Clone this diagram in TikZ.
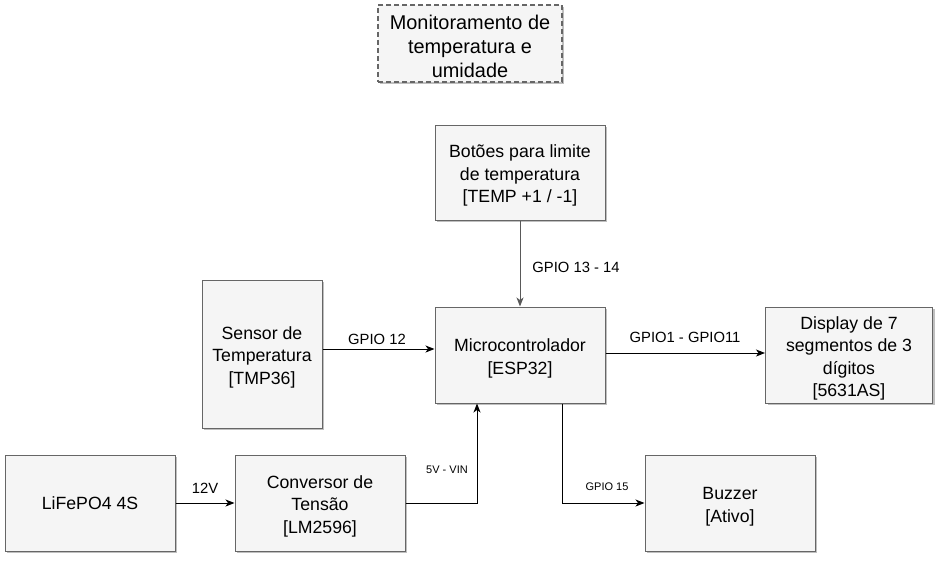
\documentclass[tikz,border=0pt]{standalone}
\usepackage{fontspec}
\setmainfont{Liberation Sans}
\usetikzlibrary{arrows.meta,shadows}
\definecolor{boxfill}{HTML}{F5F5F5}
\definecolor{boxline}{HTML}{666666}
\newcommand\tdn{\rule{0pt}{19.5pt}}
\tikzset{
  blk/.style={draw=boxline, fill=boxfill, line width=1pt, align=center,
    inner sep=0pt, font=\fontsize{17.7}{22.5}\selectfont,
    drop shadow={shadow xshift=2pt, shadow yshift=-2pt, opacity=0.25, fill=black}},
  ttl/.style={blk, dashed, dash pattern=on 5pt off 3pt, line width=1.5pt,
    font=\fontsize{19.9}{24}\selectfont},
  arr/.style={draw=black, line width=1pt, -{Stealth[length=9pt,width=7pt,inset=2.5pt]}},
  lbl/.style={inner sep=0pt, font=\fontsize{14.8}{17}\selectfont},
  slbl/.style={inner sep=0pt, font=\fontsize{11}{13}\selectfont}
}
\begin{document}
\begin{tikzpicture}[x=1pt,y=-1pt]
\useasboundingbox (0,0) rectangle (942,560);
\node[ttl, minimum width=184pt, minimum height=77pt] (title) at (470,43.5) {\tdn Monitoramento de\\temperatura e\\umidade};
\node[blk, minimum width=170pt, minimum height=95pt] (bot) at (520,172.5) {\tdn Botões para limite\\de temperatura\\{[TEMP +1 / -1]}};
\node[blk, minimum width=120pt, minimum height=148pt] (sens) at (262,354) {\tdn Sensor de\\Temperatura\\{[TMP36]}};
\node[blk, minimum width=170pt, minimum height=96pt] (mcu) at (520,355) {\tdn Microcontrolador\\{[ESP32]}};
\node[blk, minimum width=167pt, minimum height=96pt] (disp) at (849,355) {\tdn Display de 7\\segmentos de 3\\dígitos\\{[5631AS]}};
\node[blk, minimum width=170pt, minimum height=96pt] (bat) at (90,503) {LiFePO4 4S};
\node[blk, minimum width=170pt, minimum height=96pt] (conv) at (320,503) {\tdn Conversor de\\Tensão\\{[LM2596]}};
\node[blk, minimum width=170pt, minimum height=96pt] (buz) at (730,503) {\tdn Buzzer\\{[Ativo]}};

\draw[arr, draw=black!65] (bot.south) -- (mcu.north);
\draw[arr] ([yshift=5pt]sens.east) -- ([yshift=5pt]sens.east -| mcu.west);
\draw[arr] ([yshift=2pt]mcu.east) -- ([yshift=2pt]disp.west);
\draw[arr] (bat.east) -- (conv.west);
\draw[arr] (conv.east) -| ([xshift=-43pt]mcu.south);
\draw[arr] ([xshift=42pt]mcu.south) |- (buz.west);

\node[lbl] (l1) at (576,267) {GPIO 13 - 14};
\node[lbl] (l2) at (377,339) {GPIO 12};
\node[lbl] (l3) at (685,337) {GPIO1 - GPIO11};
\node[lbl] (l4) at (205,488) {12V};
\node[slbl] (l5) at (447,470) {5V - VIN};
\node[slbl] (l6) at (607,487) {GPIO 15};
\end{tikzpicture}
\end{document}
